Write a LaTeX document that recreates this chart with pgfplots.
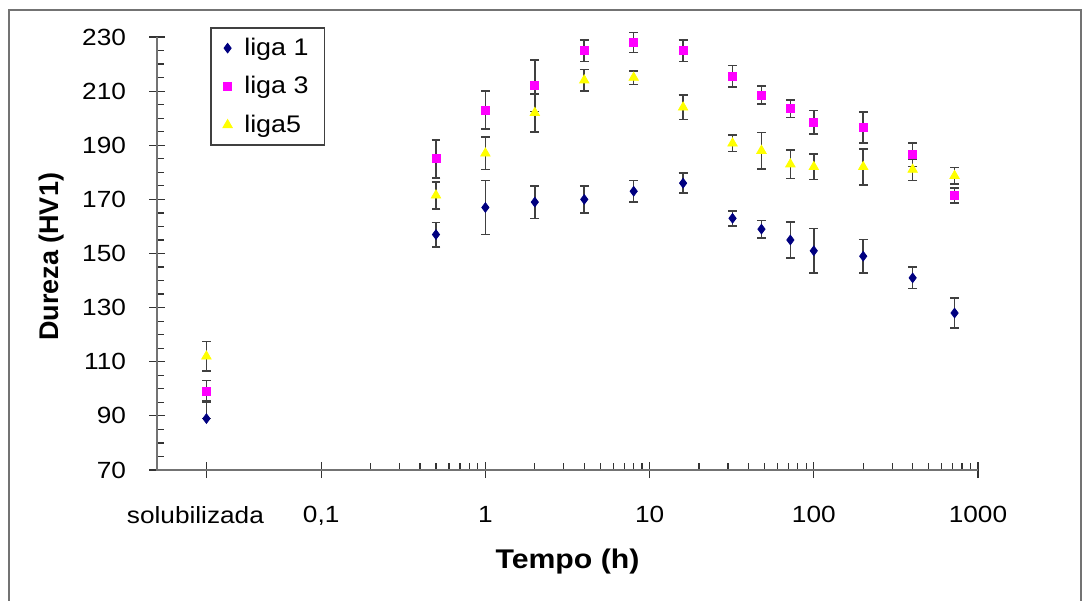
\documentclass[border=0pt]{standalone}
\usepackage{pgfplots}
\pgfplotsset{compat=1.18}
\usepackage{fontspec}
\setmainfont{Liberation Sans}[FakeStretch=1.12]
\newfontfamily\plainsans{Liberation Sans}

\definecolor{liganavy}{HTML}{000080}
\definecolor{ligamag}{HTML}{FF00FF}
\definecolor{ligayel}{HTML}{FFFF00}

\pgfplotsset{
  ebar/.style={
    error bars/.cd, y dir=both, y explicit,
    error bar style={black!75, line width=0.8pt},
    error mark options={rotate=90, mark size=2.2pt, black!75, line width=0.8pt},
  },
}

\begin{document}
\begin{tikzpicture}
\useasboundingbox (-78.5pt,-65pt) rectangle (462.5pt,235pt);
\begin{axis}[
    at={(0,0)}, anchor=south west,
    scale only axis,
    width=410.5pt, height=216.5pt,
    xmode=log,
    xmin=0.01, xmax=1000,
    ymin=70, ymax=230,
    axis line style={draw=none},
    tick pos=left,
    xtick={0.02,0.1,1,10,100,1000},
    xticklabels={solubilizada\hspace*{11pt},{0,1},1,10,100,1000},
    minor xtick={0.2,0.3,0.4,0.5,0.6,0.7,0.8,0.9,2,3,4,5,6,7,8,9,20,30,40,50,60,70,80,90,200,300,400,500,600,700,800,900},
    ytick={70,90,...,230},
    minor y tick num=3,
    tick align=center,
    major tick length=8pt,
    minor tick length=3.5pt,
    tick style={black!80, line width=0.6pt},
    minor x tick style={yshift=1.75pt},
    minor y tick style={xshift=1.75pt},
    /pgf/number format/assume math mode=true,
    ticklabel style={font=\fontsize{11.7}{14}\selectfont},
    yticklabel style={anchor=east, xshift=-8pt},
    xticklabel style={anchor=north, yshift=-10.5pt},
    xlabel={Tempo (h)},
    ylabel={Dureza (HV1)},
    x label style={at={(axis description cs:0.5,-0.2125)}, anchor=center,
      font=\fontsize{13.5}{16}\selectfont\bfseries},
    y label style={at={(axis description cs:-0.1279,0.492)}, anchor=center,
      font=\fontsize{13.5}{16}\selectfont\plainsans\bfseries},
    legend style={
      at={(axis description cs:0.0646,1.023)}, anchor=north west,
      draw=black!75, line width=0.9pt,
      font=\fontsize{12}{14}\selectfont,
      inner xsep=6pt, inner ysep=3pt, row sep=5pt,
      /tikz/every odd column/.append style={column sep=4pt},
    },
    legend cell align=left,
    clip=false,
]

% axis lines (left and bottom only)
\draw[black!55, line width=1pt] (rel axis cs:0,1) -- (rel axis cs:0,0) -- (rel axis cs:1,0);

% liga 1
\addplot[only marks, mark=diamond*, mark size=2.4pt, color=liganavy,
  mark options={draw=liganavy, fill=liganavy, line width=0.4pt}, ebar]
coordinates {
  (0.02,89) += (0,6.5) -= (0,0)
  (0.5,157) +- (0,4.5)
  (1,167) +- (0,10)
  (2,169) +- (0,6)
  (4,170) +- (0,5)
  (8,173) +- (0,4)
  (16,176) +- (0,3.7)
  (32,163) +- (0,2.8)
  (48,159) +- (0,3.2)
  (72,155) +- (0,6.7)
  (100,151) +- (0,8.3)
  (200,149) +- (0,6.2)
  (400,141) +- (0,4)
  (720,128) +- (0,5.5)
};
\addlegendentry{liga 1}

% liga 3
\addplot[only marks, mark=square*, mark size=2pt, color=ligamag,
  mark options={draw=ligamag, fill=ligamag, line width=0.4pt}, ebar]
coordinates {
  (0.02,99) +- (0,4)
  (0.5,185) +- (0,7)
  (1,203) +- (0,7)
  (2,212) +- (0,9.5)
  (4,225) +- (0,4)
  (8,228) +- (0,3.7)
  (16,225) +- (0,4)
  (32,215.5) +- (0,3.9)
  (48,208.5) +- (0,3.3)
  (72,203.5) +- (0,3.3)
  (100,198.5) +- (0,4.3)
  (200,196.5) +- (0,5.7)
  (400,186.5) +- (0,4.3)
  (720,171.5) +- (0,2.8)
};
\addlegendentry{liga 3}

% liga 5
\addplot[only marks, mark=triangle*, mark size=2.7pt, color=ligayel,
  mark options={draw=ligayel, fill=ligayel, line width=0.4pt}, ebar]
coordinates {
  (0.02,112) +- (0,5.5)
  (0.5,171.5) +- (0,5)
  (1,187) +- (0,6)
  (2,202) +- (0,7)
  (4,214) +- (0,4)
  (8,215) +- (0,2.5)
  (16,204) +- (0,4.5)
  (32,190.7) +- (0,3)
  (48,188) +- (0,6.7)
  (72,183) +- (0,5.3)
  (100,182) +- (0,4.7)
  (200,182) +- (0,6.7)
  (400,181) +- (0,4)
  (720,178.7) +- (0,3.1)
};
\addlegendentry{liga5}

\end{axis}
% outer chart frame
\draw[black!55, line width=1pt] (-74pt,-70pt) -- (-74pt,229.75pt) -- (461.75pt,229.75pt) -- (461.75pt,-70pt);
\end{tikzpicture}
\end{document}
